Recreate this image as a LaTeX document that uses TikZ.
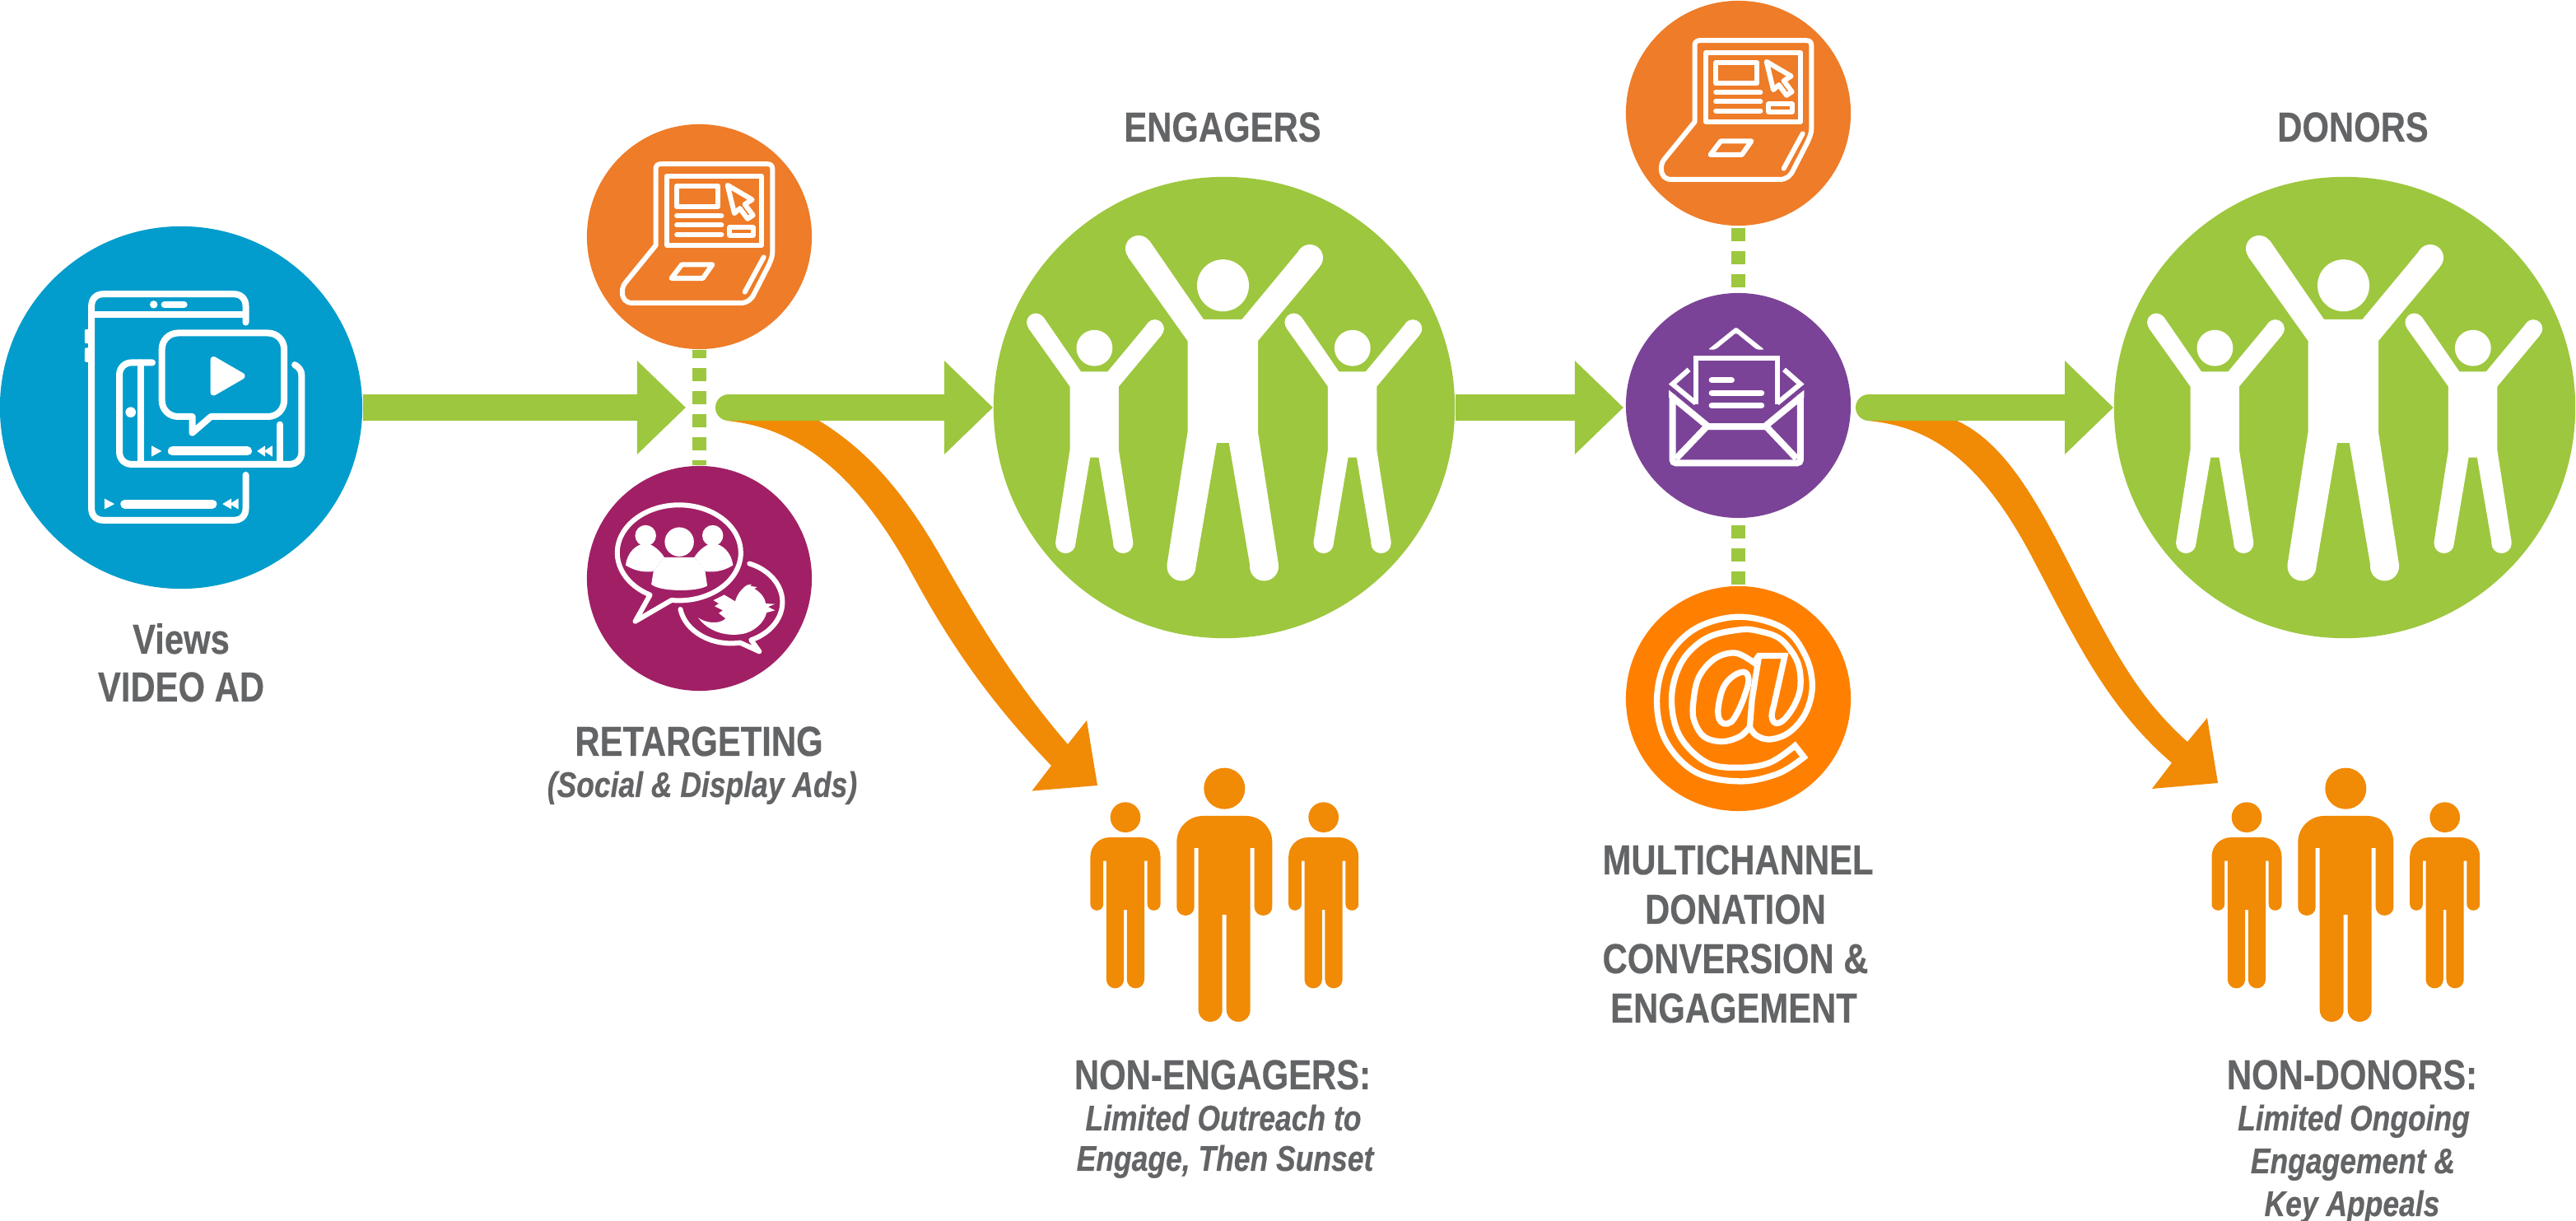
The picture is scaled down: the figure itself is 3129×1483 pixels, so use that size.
\documentclass[tikz,border=0pt]{standalone}
\usepackage{fontspec}
\setmainfont{Liberation Sans}
\newfontfamily\lab[FakeStretch=0.82,FakeBold=0.35]{Liberation Sans}
\usetikzlibrary{arrows.meta}
\definecolor{cblue}{HTML}{029DCC}
\definecolor{cgreen}{HTML}{9DC73E}
\definecolor{claptop}{HTML}{EE7C28}
\definecolor{cmag}{HTML}{A12065}
\definecolor{cpurple}{HTML}{7B4397}
\definecolor{cat}{HTML}{FF8000}
\definecolor{cpath}{HTML}{F18A05}
\definecolor{txtgrey}{HTML}{636466}
\tikzset{
  lw/.style={line width=#1*0.2845pt},
  disc/.style={circle,inner sep=0pt,draw=none,minimum size=#1},
  zoomed/.style={shift={(#1)},x=0.003333cm,y=-0.003333cm},
  ic/.style={draw=white,lw=#1,line join=round,line cap=round},
  garrow/.style={draw=cgreen,lw=32,-{Triangle[length=16.8pt,width=31.3pt]}},
  dots/.style={draw=cgreen,lw=17,dash pattern=on 4.55pt off 3.41pt},
  lbl/.style={anchor=base,inner sep=0pt,text=txtgrey,font=\lab\bfseries\fontsize{14.5}{17}\selectfont},
  sub/.style={anchor=base,inner sep=0pt,text=txtgrey,font=\lab\bfseries\itshape\fontsize{12.3}{14}\selectfont},
}
\newcommand\raisedperson[3]{%
\begin{scope}[shift={(#1,#2)},scale=#3]
\fill[white] (0,0) circle[radius=0.315cm];
\fill[white] (-89.5,-54.7) -- (-23.5,41.3) -- (23,41.3) -- (93.5,-43.7) -- (117.5,-22.7) -- (42.5,67.3) -- (42.5,178.3) -- (67.5,339.3) -- (33,341.3) -- (7.3,191.3) -- (-7.5,191.3) -- (-33,341.3) -- (-68,339.3) -- (-43,178.3) -- (-43,67.3) -- (-115.5,-34.7) -- cycle;
\fill[white] (-102.5,-44.7) circle[radius=0.16cm] (105.5,-33.7) circle[radius=0.16cm] (-50.5,341.3) circle[radius=0.175cm] (50,341.3) circle[radius=0.175cm];
\end{scope}}
\newcommand\stillperson[3]{%
\begin{scope}[shift={(#1,#2)},scale=#3]
\fill[cpath] (0,0) circle[radius=0.25cm];
\fill[cpath] (-58,144) .. controls (-58,150) and (-53,154.3) .. (-47.3,154.3) .. controls (-41.6,154.3) and (-36.6,150) .. (-36.6,144) -- (-36.6,72.3) -- (-31.6,72.3) -- (-31.6,268.8) .. controls (-31.6,277) and (-25,283.3) .. (-17.1,283.3) .. controls (-9,283.3) and (-2.6,277) .. (-2.6,268.8) -- (-2.6,153.3) -- (2.4,153.3) -- (2.4,268.8) .. controls (2.4,277) and (9,283.3) .. (16.9,283.3) .. controls (25,283.3) and (31.4,277) .. (31.4,268.8) -- (31.4,72.3) -- (36.4,72.3) -- (36.4,144) .. controls (36.4,150) and (41.4,154.3) .. (47.1,154.3) .. controls (53,154.3) and (58,150) .. (58,144) -- (58,65.3) .. controls (58,47.6) and (43.7,33.3) .. (26,33.3) -- (-26,33.3) .. controls (-43.7,33.3) and (-58,47.6) .. (-58,65.3) -- cycle;
\end{scope}}
\newcommand\laptopicon[2]{%
\begin{scope}[zoomed={#1,#2}]
\draw[ic=6] (290,475) -- (290,195) .. controls (290,185) and (297,178) .. (307,178) -- (699,178) .. controls (709,178) and (716,185) .. (716,195) -- (716,500) .. controls (716,515) and (710,530) .. (702,548) -- (650,650) .. controls (640,672) and (625,685) .. (600,685) -- (205,685) .. controls (180,685) and (168,670) .. (168,645) .. controls (168,630) and (172,620) .. (180,610) -- cycle;
\draw[ic=6] (331,221) rectangle (675,475);
\draw[ic=6] (367,258) rectangle (517,334);
\draw[ic=6] (367,367) -- (530,367) (367,401) -- (530,401) (367,435) -- (530,435);
\draw[ic=6] (560,410) rectangle (645,438);
\draw[ic=6] (552,255) -- (642,308) -- (615,325) -- (645,365) -- (625,378) -- (597,340) -- (577,358) -- cycle;
\draw[ic=6] (385,545) -- (497,545) -- (462,595) -- (347,595) -- cycle;
\draw[ic=6] (684,518) -- (615,645);
\end{scope}}
\begin{document}
\begin{tikzpicture}[x=0.01cm,y=-0.01cm]
\useasboundingbox (0,0) rectangle (3129,1483);
\fill[white] (0,0) rectangle (3129,1483);

% main discs
\node[disc=4.40cm,fill=cblue] (video) at (220,495) {};
\node[disc=2.73cm,fill=claptop] (web1) at (849.5,287.5) {};
\node[disc=2.73cm,fill=cmag] (social) at (849.5,702.5) {};
\node[disc=5.60cm,fill=cgreen] (engagers) at (1487,495) {};
\node[disc=2.73cm,fill=claptop] (web2) at (2111.5,137.5) {};
\node[disc=2.73cm,fill=cpurple] (mail) at (2111.5,492.5) {};
\node[disc=2.73cm,fill=cat] (email) at (2111.5,848.5) {};
\node[disc=5.60cm,fill=cgreen] (donors) at (2848,495) {};

% orange branches
\coordinate (b1s) at (882,511);
\coordinate (b1t) at (1333,954);
\coordinate (b2s) at (2268,511);
\coordinate (b2t) at (2694,951);
\fill[cpath] (b1s) -- (995,511) .. controls (1050,545) and (1095,592) .. (1145,680) .. controls (1195,768) and (1240,838) .. (1297,904) -- (1320,875) -- (b1t) -- (1253.5,960.6) -- (1277,930) .. controls (1210,860) and (1160,793) .. (1110,701) .. controls (1050,590) and (980,520) .. (b1s) -- cycle;
\fill[cpath] (b2s) -- (2377,511) .. controls (2440,540) and (2480,620) .. (2525,708) .. controls (2570,795) and (2600,850) .. (2657,901) -- (2681,872) -- (b2t) -- (2614,958) -- (2638,926.5) .. controls (2560,860) and (2520,775) .. (2470,680) .. controls (2410,565) and (2350,518) .. (b2s) -- cycle;

% green arrows
\coordinate (t1) at (833,495);
\coordinate (s2) at (885,495);
\coordinate (t3) at (1972,495);
\coordinate (s4) at (2270,495);
\draw[garrow] (video.east) -- (t1);
\draw[garrow,line cap=round] (s2) -- (engagers.west);
\draw[garrow] (engagers.east) -- (t3);
\draw[garrow,line cap=round] (s4) -- (donors.west);

% dotted links
\draw[dots,dash phase=1.7pt] (web1.south) -- (social.north);
\draw[dots,dash phase=7.4pt] (web2.south) -- (mail.north);
\draw[dots,dash phase=5.7pt] (mail.south) -- (email.north);

% video icon
\begin{scope}[zoomed={0,300}]
\draw[ic=8,line join=round] (897,275) -- (897,215) .. controls (897,190) and (880,172) .. (855,172) -- (376,172) .. controls (351,172) and (334,190) .. (334,215) -- (334,955) .. controls (334,980) and (351,997) .. (376,997) -- (855,997) .. controls (880,997) and (897,980) .. (897,955) -- (897,832);
\draw[draw=white,lw=8] (334,247) -- (897,247);
\fill[white] (561,210) circle[radius=0.047cm];
\draw[ic=8] (600,210) -- (672,210);
\fill[white,rounded corners=0.02cm] (309,300) rectangle (330,352);
\fill[white,rounded corners=0.02cm] (309,368) rectangle (330,420);
\fill[white] (381,918) -- (418,938) -- (381,957) -- cycle;
\draw[ic=11] (456,938) -- (775,938);
\fill[white] (812,938) -- (845,918) -- (845,957) -- cycle;
\fill[white] (838,938) -- (870,918) -- (870,957) -- cycle;
\draw[ic=8] (556,422) -- (480,422) .. controls (455,422) and (436,441) .. (436,466) -- (436,749) .. controls (436,774) and (455,793) .. (480,793) -- (1057,793) .. controls (1082,793) and (1101,774) .. (1101,749) -- (1101,470) .. controls (1101,450) and (1090,438) .. (1076,430);
\draw[ic=8] (515,422) -- (515,793);
\draw[ic=8] (1022,648) -- (1022,793);
\fill[white] (477,603) circle[radius=0.063cm];
\fill[white] (553,725) -- (590,745) -- (553,765) -- cycle;
\draw[ic=11] (629,745) -- (903,745);
\fill[white] (938,745) -- (968,725) -- (968,765) -- cycle;
\fill[white] (964,745) -- (994,725) -- (994,765) -- cycle;
\draw[ic=8] (702,678) -- (702,619) -- (650,619) .. controls (617,619) and (591,593) .. (591,560) -- (591,373) .. controls (591,340) and (617,314) .. (650,314) -- (978,314) .. controls (1011,314) and (1037,340) .. (1037,373) -- (1037,560) .. controls (1037,593) and (1011,619) .. (978,619) -- (770,619) -- cycle;
\filldraw[ic=8,fill=white] (780,412) -- (780,530) -- (882,471) -- cycle;
\end{scope}

\laptopicon{700}{140}
\laptopicon{1962}{-10}

% social icon
\begin{scope}[zoomed={700,560}]
\draw[ic=6] (347.6,507.7) arc[start angle=263,end angle=602,x radius=0.75cm,y radius=0.58cm] -- (215,585) -- cycle;
\fill[white] (376,295) circle[radius=0.177cm];
\fill[white] (253,272) circle[radius=0.127cm];
\fill[white] (498,272) circle[radius=0.127cm];
\fill[white] (180,380) .. controls (186,335) and (216,303) .. (255,300) .. controls (279,303) and (309,330) .. (321,351) -- (280,403) .. controls (240,408) and (204,396) .. cycle;
\fill[white] (572,380) .. controls (566,335) and (536,303) .. (497,300) .. controls (473,303) and (443,330) .. (431,351) -- (472,403) .. controls (512,408) and (548,396) .. cycle;
\fill[white] (321,351) -- (431,351) -- (470,400) -- (478,455) .. controls (445,478) and (305,478) .. (274,450) -- (282,400) -- cycle;
\draw[ic=6] (380,541) arc[start angle=190,end angle=280,x radius=0.625cm,y radius=0.50cm] -- (668,695) -- (638,653) arc[start angle=293,end angle=429,x radius=0.625cm,y radius=0.50cm];
\fill[white,line join=round] (445,572) .. controls (470,590) and (520,598) .. (545,575) -- (520,555) -- (535,545) -- (505,530) -- (520,520) -- (500,508) -- (540,488) -- (580,512) .. controls (585,490) and (605,462) .. (625,452) -- (640,450) -- (635,456) -- (660,460) -- (650,466) .. controls (675,480) and (688,500) .. (692,520) -- (725,522) -- (700,532) -- (725,545) -- (695,553) .. controls (685,590) and (650,625) .. (600,632) .. controls (540,640) and (480,620) .. cycle;
\end{scope}

% people in green
\raisedperson{1485.5}{346.7}{1}
\raisedperson{1329.4}{422.7}{0.695}
\raisedperson{1642.8}{422.7}{0.695}
\raisedperson{2846.5}{346.7}{1}
\raisedperson{2690.4}{422.7}{0.695}
\raisedperson{3003.8}{422.7}{0.695}

% envelope icon
\begin{scope}[zoomed={1960,350}]
\fill[white,rounded corners=0.02cm] (345,224) -- (447,142) -- (550,224) -- (522,224) -- (447,163) -- (372,224) -- cycle;
\draw[draw=white,lw=6] (275,297) -- (215,350) -- (300,420);
\draw[draw=white,lw=6] (622,297) -- (682,350) -- (597,420);
\draw[draw=white,lw=6] (300,425) -- (300,255) -- (597,255) -- (597,425);
\draw[ic=7] (358,336) -- (431,336) (358,382) -- (540,382) (358,428) -- (540,428);
\draw[draw=white,lw=8] (215,398) -- (345,505) -- (552,505) -- (682,398);
\draw[draw=white,lw=8,rounded corners=0.04cm] (682,392) -- (682,638) -- (215,638) -- (215,392);
\fill[white] (202,372) -- (228,393) -- (228,400) -- (202,400) -- cycle;
\fill[white] (695,372) -- (669,393) -- (669,400) -- (695,400) -- cycle;
\draw[draw=white,lw=8] (340,505) -- (228,622) (557,505) -- (668,622);
\end{scope}

% at icon
\begin{scope}[zoomed={1960,700}]
\draw[draw=white,lw=7.3,line join=miter] plot[smooth,tension=0.6] coordinates {(662,618) (570,680) (460,698) (340,680) (240,580) (212,440) (250,310) (340,225) (460,195) (530,200) (610,230) (670,310) (682,400) (660,470) (620,525) (590,535) (577,510) (585,470)} -- (625,290) -- (530,290) -- plot[smooth,tension=0.6] coordinates {(512,315) (445,280) (370,300) (310,370) (290,470) (295,530) (330,585) (395,603) (460,585) (497,550)} -- plot[smooth,tension=0.6] coordinates {(497,550) (520,580) (570,595) (640,570) (700,500) (725,400) (700,290) (620,190) (460,148) (300,190) (195,300) (158,450) (190,600) (300,715) (460,748) (600,720) (695,660)} -- cycle;
\draw[draw=white,lw=7.3] plot[smooth cycle,tension=0.7] coordinates {(465,350) (492,370) (480,430) (445,510) (415,538) (385,520) (385,460) (410,390)};
\draw[draw=white,lw=7.3] (530,295) -- (505,450) -- (497,550);
\end{scope}

% orange people
\stillperson{1487.3}{957.7}{1}
\stillperson{1367}{992.7}{0.733}
\stillperson{1607.7}{992.7}{0.733}
\stillperson{2849.3}{957.7}{1}
\stillperson{2729}{992.7}{0.733}
\stillperson{2969.7}{992.7}{0.733}

% texts
\node[lbl] (l1) at (220,794) {Views};
\node[lbl] (l2) at (220,852) {VIDEO AD};
\node[lbl] (l3) at (849,918) {RETARGETING};
\node[sub] (l4) at (853,968) {(Social \& Display Ads)};
\node[lbl] (l5) at (1485,172) {ENGAGERS};
\node[lbl] (l6) at (2858,172) {DONORS};
\node[lbl] (l7) at (1485,1323) {NON-ENGAGERS:};
\node[sub] (l8) at (1486,1373) {Limited Outreach to};
\node[sub] (l9) at (1488,1422) {Engage, Then Sunset};
\node[lbl] (l10) at (2111,1062) {MULTICHANNEL};
\node[lbl] (l11) at (2108,1122) {DONATION};
\node[lbl] (l12) at (2108,1182) {CONVERSION \&};
\node[lbl] (l13) at (2106,1242) {ENGAGEMENT};
\node[lbl] (l14) at (2857,1323) {NON-DONORS:};
\node[sub] (l15) at (2859,1373) {Limited Ongoing};
\node[sub] (l16) at (2858,1425) {Engagement \&};
\node[sub] (l17) at (2857,1477) {Key Appeals};
\end{tikzpicture}
\end{document}
